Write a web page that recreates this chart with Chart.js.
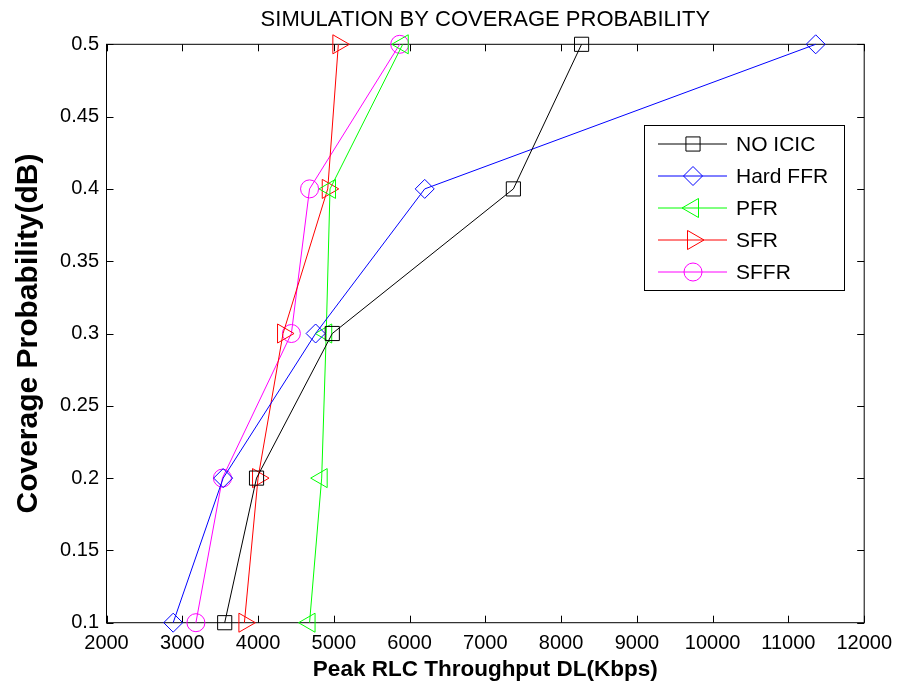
<!DOCTYPE html>
<html>
<head>
<meta charset="utf-8">
<script src="https://cdn.jsdelivr.net/npm/chart.js@4/dist/chart.umd.min.js"></script>
<style>
  html, body { margin: 0; padding: 0; background: #fff; }
</style>
</head>
<body>
<canvas id="coverageChart" width="901" height="686"></canvas>
<script>
// coverage probability levels (y) and peak throughput per scheme (x, Kbps)
const coverageLevels = [0.1, 0.2, 0.3, 0.4, 0.5];
const noIcic  = [3560, 3980, 4980, 7370, 8270];
const hardFfr = [2880, 3540, 4760, 6200, 11360];
const pfr     = [4680, 4840, 4900, 4950, 5910];
const sfr     = [3820, 4000, 4330, 4920, 5060];
const sffr    = [3180, 3530, 4440, 4680, 5870];

const xTickValues = [2000, 3000, 4000, 5000, 6000, 7000, 8000, 9000, 10000, 11000, 12000];
const yTickValues = [0.1, 0.15, 0.2, 0.25, 0.3, 0.35, 0.4, 0.45, 0.5];

const FONT = 'Arial, "Liberation Sans", Helvetica, sans-serif';
Chart.defaults.font.family = FONT;
Chart.defaults.color = '#000';

const toPoints = (xs) => xs.map((v, i) => ({ x: v, y: coverageLevels[i] }));

const series = (label, xs, color, style, radius, rotation) => ({
  label: label,
  data: toPoints(xs),
  borderColor: color,
  backgroundColor: 'rgba(0,0,0,0)',
  borderWidth: 1,
  pointStyle: style,
  pointRadius: radius,
  pointHoverRadius: radius,
  pointRotation: rotation,
  pointBorderColor: color,
  pointBackgroundColor: 'rgba(0,0,0,0)',
  pointBorderWidth: 1,
  tension: 0,
  clip: false
});

// box around the plot with inward ticks on all four sides
const frameBox = {
  id: 'frameBox',
  beforeDatasetsDraw(chart) {
    const { ctx, chartArea: a, scales: { x, y } } = chart;
    ctx.save();
    ctx.strokeStyle = '#000';
    ctx.lineWidth = 1;
    ctx.strokeRect(a.left, a.top, a.right - a.left, a.bottom - a.top);
    ctx.beginPath();
    x.ticks.forEach((t) => {
      const px = Math.round(x.getPixelForValue(t.value)) + 0.5;
      ctx.moveTo(px, a.bottom); ctx.lineTo(px, a.bottom - 7);
      ctx.moveTo(px, a.top); ctx.lineTo(px, a.top + 7);
    });
    y.ticks.forEach((t) => {
      const py = Math.round(y.getPixelForValue(t.value)) + 0.5;
      ctx.moveTo(a.left, py); ctx.lineTo(a.left + 7, py);
      ctx.moveTo(a.right, py); ctx.lineTo(a.right - 7, py);
    });
    ctx.stroke();
    ctx.restore();
  }
};

// MATLAB style legend: line with marker in the middle
const boxLegend = {
  id: 'boxLegend',
  afterDatasetsDraw(chart) {
    const ctx = chart.ctx;
    ctx.save();
    ctx.fillStyle = '#fff';
    ctx.fillRect(644.5, 125.5, 200, 165);
    ctx.strokeStyle = '#000';
    ctx.lineWidth = 1;
    ctx.strokeRect(644.5, 125.5, 200, 165);
    chart.data.datasets.forEach((ds, i) => {
      const yy = 144 + i * 32;
      ctx.strokeStyle = ds.borderColor;
      ctx.lineWidth = 1;
      ctx.beginPath();
      ctx.moveTo(658, yy);
      ctx.lineTo(727, yy);
      ctx.stroke();
      ctx.fillStyle = 'rgba(0,0,0,0)';
      Chart.helpers.drawPoint(ctx, {
        pointStyle: ds.pointStyle,
        rotation: ds.pointRotation || 0,
        radius: ds.pointRadius,
        borderWidth: 1
      }, 693, yy);
      ctx.fillStyle = '#000';
      ctx.font = '21px ' + FONT;
      ctx.textBaseline = 'middle';
      ctx.textAlign = 'left';
      ctx.fillText(ds.label, 736, yy + 1);
    });
    ctx.restore();
  }
};

new Chart(document.getElementById('coverageChart'), {
  type: 'line',
  data: {
    datasets: [
      series('NO ICIC', noIcic, '#000000', 'rect', 10, 0),
      series('Hard FFR', hardFfr, '#0000ff', 'rectRot', 9.5, 0),
      series('PFR', pfr, '#00ff00', 'triangle', 11, -90),
      series('SFR', sfr, '#ff0000', 'triangle', 11, 90),
      series('SFFR', sffr, '#ff00ff', 'circle', 9, 0)
    ]
  },
  options: {
    responsive: false,
    animation: false,
    devicePixelRatio: 1,
    layout: { padding: { top: 0, right: 35.5, bottom: 0, left: 0 } },
    scales: {
      x: {
        type: 'linear',
        min: 2000,
        max: 12000,
        afterBuildTicks: (scale) => { scale.ticks = xTickValues.map((v) => ({ value: v })); },
        afterFit: (scale) => { scale.height = 63.3; },
        grid: { display: false, drawTicks: false },
        border: { display: false },
        ticks: {
          padding: 9,
          maxRotation: 0,
          font: { size: 20 },
          callback: (value) => String(value)
        },
        title: {
          display: true,
          text: 'Peak RLC Throughput DL(Kbps)',
          font: { size: 22.5, weight: 'bold' },
          padding: { top: 0, bottom: 2.5 }
        }
      },
      y: {
        type: 'linear',
        min: 0.1,
        max: 0.5,
        afterBuildTicks: (scale) => { scale.ticks = yTickValues.map((v) => ({ value: v })); },
        afterFit: (scale) => { scale.width = 106.5; },
        grid: { display: false, drawTicks: false },
        border: { display: false },
        ticks: {
          padding: 7.5,
          font: { size: 20 },
          callback: (value) => String(+value.toFixed(2))
        },
        title: {
          display: true,
          text: 'Coverage Probability(dB)',
          font: { size: 30, weight: 'bold' },
          padding: { top: 11, bottom: 0 }
        }
      }
    },
    plugins: {
      legend: { display: false },
      tooltip: { enabled: false },
      title: {
        display: true,
        text: 'SIMULATION BY COVERAGE PROBABILITY',
        fullSize: false,
        font: { size: 22, weight: 'normal' },
        color: '#000',
        padding: { top: 6.5, bottom: 11.4 }
      }
    }
  },
  plugins: [frameBox, boxLegend]
});
</script>
</body>
</html>
